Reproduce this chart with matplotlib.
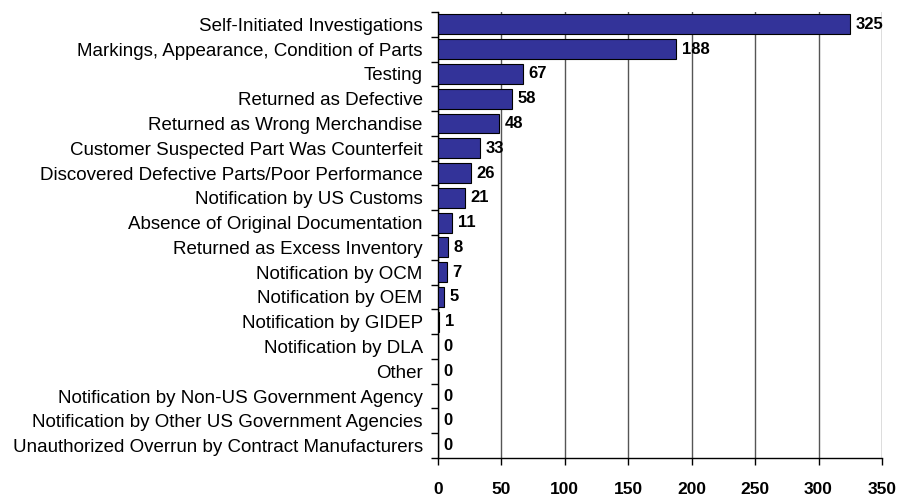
import matplotlib
matplotlib.use("Agg")
import matplotlib.pyplot as plt
import numpy as np

categories = [
    "Self-Initiated Investigations",
    "Markings, Appearance, Condition of Parts",
    "Testing",
    "Returned as Defective",
    "Returned as Wrong Merchandise",
    "Customer Suspected Part Was Counterfeit",
    "Discovered Defective Parts/Poor Performance",
    "Notification by US Customs",
    "Absence of Original Documentation",
    "Returned as Excess Inventory",
    "Notification by OCM",
    "Notification by OEM",
    "Notification by GIDEP",
    "Notification by DLA",
    "Other",
    "Notification by Non-US Government Agency",
    "Notification by Other US Government Agencies",
    "Unauthorized Overrun by Contract Manufacturers",
]
values = [325, 188, 67, 58, 48, 33, 26, 21, 11, 8, 7, 5, 1, 0, 0, 0, 0, 0]
xticks = [0, 50, 100, 150, 200, 250, 300, 350]

plt.rcParams['font.family'] = ['Liberation Sans', 'DejaVu Sans']

fig = plt.figure(figsize=(9.01, 4.95), dpi=100)
ax = fig.add_axes([438/901, 1 - 458/495, (882-438)/901, (458-12)/495])

n = len(categories)
y = np.arange(n)
ax.barh(y, values, height=0.8, color='#333399', edgecolor='black', linewidth=0.8, zorder=3)
for yi, v in zip(y, values):
    ax.annotate(str(v), xy=(v, yi), xytext=(4, 0), textcoords='offset points',
                va='center', ha='left', fontsize=12, fontweight='bold', zorder=4)

ax.set_ylim(n - 0.5, -0.5)
ax.set_xlim(0, 350)
ax.set_yticks(y)
ax.set_yticklabels(categories, fontsize=13.5)
ax.set_yticks(np.arange(-0.5, n, 1), minor=True)
ax.tick_params(axis='y', which='major', length=0, pad=11)
ax.tick_params(axis='y', which='minor', length=5, width=1, direction='out')
ax.set_xticks(xticks)
ax.set_xticklabels([str(t) for t in xticks], fontsize=12.5, fontweight='bold')
ax.tick_params(axis='x', length=5, width=1, direction='out', pad=12)

ax.grid(axis='x', color='#555555', linewidth=1, zorder=0)
for s in ['top', 'right']:
    ax.spines[s].set_visible(False)
ax.spines['left'].set_linewidth(1)
ax.spines['bottom'].set_linewidth(1)

fig.savefig('out.png', dpi=100)
